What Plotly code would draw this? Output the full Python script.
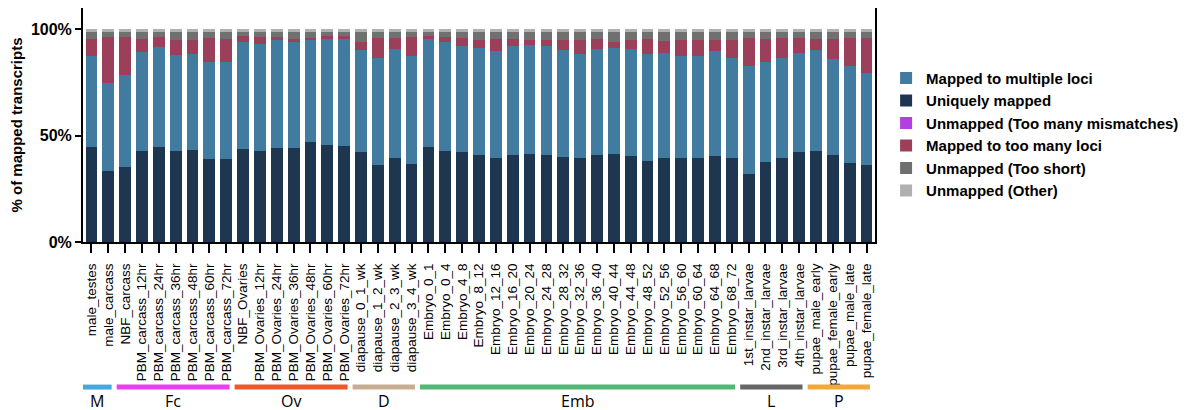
import plotly.graph_objects as go

samples = [
    "male_testes", "male_carcass",
    "NBF_carcass", "PBM_carcass_12hr", "PBM_carcass_24hr", "PBM_carcass_36hr",
    "PBM_carcass_48hr", "PBM_carcass_60hr", "PBM_carcass_72hr",
    "NBF_Ovaries", "PBM_Ovaries_12hr", "PBM_Ovaries_24hr", "PBM_Ovaries_36hr",
    "PBM_Ovaries_48hr", "PBM_Ovaries_60hr", "PBM_Ovaries_72hr",
    "diapause_0_1_wk", "diapause_1_2_wk", "diapause_2_3_wk", "diapause_3_4_wk",
    "Embryo_0_1", "Embryo_0_4", "Embryo_4_8", "Embryo_8_12", "Embryo_12_16",
    "Embryo_16_20", "Embryo_20_24", "Embryo_24_28", "Embryo_28_32", "Embryo_32_36",
    "Embryo_36_40", "Embryo_40_44", "Embryo_44_48", "Embryo_48_52", "Embryo_52_56",
    "Embryo_56_60", "Embryo_60_64", "Embryo_64_68", "Embryo_68_72",
    "1st_instar_larvae", "2nd_instar_larvae", "3rd_instar_larvae", "4th_instar_larvae",
    "pupae_male_early", "pupae_female_early", "pupae_male_late", "pupae_female_late",
]

uniquely_mapped = [44.8, 33.5, 35.4, 42.9, 44.8, 42.6, 43.2, 39.0, 39.1, 43.8, 42.6, 44.3,
                   44.4, 46.8, 45.4, 45.1, 42.3, 36.2, 39.4, 36.6, 44.8, 43.0, 42.3, 40.8,
                   39.6, 40.8, 41.2, 40.8, 40.1, 39.6, 40.7, 41.6, 40.4, 38.0, 39.6, 39.3,
                   39.7, 40.5, 39.6, 31.9, 37.6, 39.6, 42.3, 42.7, 40.8, 37.1, 36.2]
multiple_loci = [42.5, 41.3, 43.2, 46.5, 46.9, 45.2, 45.4, 45.7, 45.7, 50.3, 50.7, 50.7,
                 50.0, 48.3, 50.1, 50.2, 47.8, 50.2, 51.1, 50.9, 50.7, 51.1, 50.0, 50.3,
                 50.2, 51.5, 51.3, 51.2, 50.0, 49.0, 50.2, 49.6, 50.5, 50.3, 49.3, 48.2,
                 47.8, 49.2, 47.1, 51.0, 47.1, 46.9, 46.4, 47.4, 45.1, 45.7, 43.1]
too_many_loci = [8.3, 21.4, 17.6, 6.1, 4.7, 7.3, 6.5, 11.2, 10.5, 2.6, 3.1, 1.4,
                 0.9, 1.0, 1.2, 1.4, 4.1, 9.5, 5.4, 8.9, 1.5, 2.3, 3.6, 4.0,
                 5.7, 3.2, 2.6, 3.1, 4.7, 6.5, 4.4, 2.7, 4.2, 7.2, 5.6, 7.6,
                 7.6, 5.4, 8.4, 13.2, 10.6, 9.4, 7.2, 5.4, 9.6, 13.1, 16.6]
too_many_mismatches = [0.0] * 47
too_short = [3.2, 2.6, 2.6, 3.3, 2.4, 3.7, 3.7, 2.9, 3.5, 2.1, 2.4, 2.4,
             3.5, 2.7, 2.1, 2.1, 4.6, 2.9, 2.9, 2.4, 1.8, 2.4, 2.9, 3.7,
             3.3, 3.3, 3.7, 3.7, 4.0, 3.7, 3.5, 4.9, 3.7, 3.3, 4.3, 3.7,
             3.7, 3.7, 3.7, 2.7, 3.5, 2.9, 2.9, 3.3, 3.3, 2.9, 2.9]
other = [1.2] * 47

groups = ["M", "Fc", "Ov", "D", "Emb", "L", "P"]
group_start = [0, 2, 9, 16, 20, 39, 43]
group_end = [1, 8, 15, 19, 38, 42, 46]
group_colors = ["#4aa7dc", "#e93fee", "#ea5a2c", "#c9ad93", "#52b776", "#666666", "#f2a93b"]

series = [
    ("Uniquely mapped", uniquely_mapped, "#1f3651", 2),
    ("Mapped to multiple loci", multiple_loci, "#417ca0", 1),
    ("Mapped to too many loci", too_many_loci, "#9c3f5a", 4),
    ("Unmapped (Too many mismatches)", too_many_mismatches, "#b23fe2", 3),
    ("Unmapped (Too short)", too_short, "#707070", 5),
    ("Unmapped (Other)", other, "#b0b0b0", 6),
]

fig = go.Figure()
for name, vals, color, rank in series:
    fig.add_trace(go.Bar(
        x=samples, y=vals, name=name, marker_color=color,
        marker_line_width=0, legendrank=rank,
    ))

for g, s, e, c in zip(groups, group_start, group_end, group_colors):
    fig.add_shape(type="line", xref="x", yref="paper", x0=s - 0.5, x1=e + 0.2,
                  y0=-0.62, y1=-0.62, line=dict(color=c, width=5))
    fig.add_annotation(x=(s + e) / 2 - 0.15, xref="x", y=-0.68, yref="paper", text=g,
                       showarrow=False, yanchor="middle",
                       font=dict(family="Open Sans, Arial", size=16, color="black"))

fig.update_layout(
    barmode="stack",
    bargap=0.3,
    width=1193, height=410,
    margin=dict(l=75, r=326, t=0, b=176, autoexpand=False),
    plot_bgcolor="white", paper_bgcolor="white",
    font=dict(family="Liberation Sans, Arial", color="black"),
    legend=dict(x=1.014, y=0.77, xanchor="left", yanchor="top",
                font=dict(size=15, family="Liberation Sans, Arial", color="black", weight="bold"),
                traceorder="normal", itemwidth=30),
    showlegend=True,
)
fig.update_yaxes(range=[0, 110], tickvals=[0, 50, 100], ticktext=["0%", "50%", "100%"],
                 showline=True, linecolor="black", linewidth=2, mirror=True,
                 ticks="outside", ticklen=6, tickwidth=2, tickcolor="black",
                 showgrid=False, zeroline=False,
                 tickfont=dict(size=16, family="Liberation Sans, Arial", weight="bold"),
                 title=dict(text="% of mapped transcripts", standoff=8,
                            font=dict(size=15, family="Liberation Sans, Arial", weight="bold")))
fig.update_xaxes(showline=True, linecolor="black", linewidth=2, mirror=True,
                 ticks="outside", ticklen=9, tickwidth=2, tickcolor="black",
                 tickangle=-90, ticklabelstandoff=5,
                 tickmode="array", tickvals=samples, ticktext=samples,
                 tickfont=dict(size=13.5, family="Liberation Sans, Arial"),
                 showgrid=False, range=[-0.5, 46.5])

fig.write_html("out.html")
